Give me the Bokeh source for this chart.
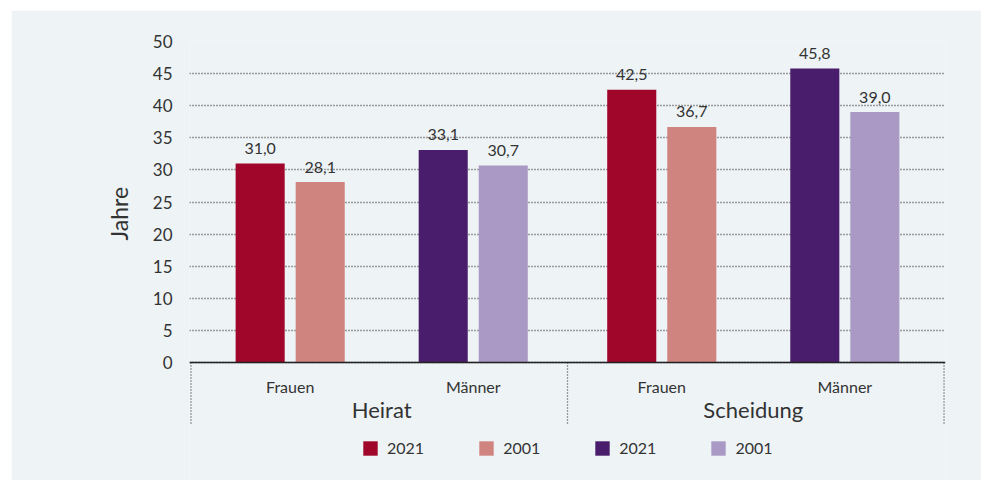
from bokeh.plotting import figure
from bokeh.models import (FactorRange, Range1d, FixedTicker, ColumnDataSource,
                          Legend, LegendItem, Span, Title)
from bokeh.transform import dodge
from bokeh.core.properties import value
from bokeh.embed import file_html
from bokeh.resources import INLINE

# ---------------- data ----------------
groups = ["Heirat", "Scheidung"]
sexes = ["Frauen", "Männer"]
frauen_2021 = [31.0, 42.5]
frauen_2001 = [28.1, 36.7]
maenner_2021 = [33.1, 45.8]
maenner_2001 = [30.7, 39.0]
y_ticks = [0, 5, 10, 15, 20, 25, 30, 35, 40, 45, 50]
y_title = "Jahre"

# ---------------- style ----------------
FONT = "Lato"
TEXT = "#333333"
BG = "#eef3f6"
C_F21 = "#a0052a"
C_F01 = "#d08480"
C_M21 = "#4a1c6c"
C_M01 = "#a999c4"

factors = [(g, s) for g in groups for s in sexes]
gp = 0.03
pad = 0.05
x_range = FactorRange(*factors, group_padding=gp,
                      range_padding=2 * pad / (len(factors) + gp))
y_range = Range1d(-18.38, 50)
sep_bottom = -9.66

W, H = 970, 470
BL, BR, BT = 178, 36, 31
p = figure(width=W, height=H, x_range=x_range, y_range=y_range,
           output_backend="svg", toolbar_location=None,
           min_border_left=BL, min_border_right=BR,
           min_border_top=BT, min_border_bottom=0,
           background_fill_color=BG, border_fill_color=BG,
           outline_line_color=None, margin=(10, 0, 0, 11))

def fmt(v):
    return f"{v:.1f}".replace(".", ",")

series = [("Frauen", frauen_2021, C_F21, -0.164),
          ("Frauen", frauen_2001, C_F01, 0.164),
          ("Männer", maenner_2021, C_M21, -0.164),
          ("Männer", maenner_2001, C_M01, 0.164)]

renderers = []
for sex, vals, col, off in series:
    src = ColumnDataSource(dict(x=[(g, sex) for g in groups], y=vals,
                                label=[fmt(v) for v in vals]))
    r = p.vbar(x=dodge("x", off, range=x_range), top="y", width=0.268,
               source=src, fill_color=col, line_color=None)
    renderers.append(r)
    p.text(x=dodge("x", off, range=x_range), y="y", text="label", source=src,
           text_align="center", text_baseline="alphabetic", y_offset=-15,
           text_font=value(FONT), text_font_size="16px", text_color=TEXT)

# baseline (x axis line)
p.add_layout(Span(location=0, dimension="width", line_color="#222222",
                  line_width=1.5))

# category labels below the baseline
sub_src = ColumnDataSource(dict(x=factors, y=[0] * len(factors),
                                t=[f[1] for f in factors]))
p.text(x="x", y="y", text="t", source=sub_src, text_align="center",
       text_baseline="alphabetic", y_offset=24, text_font=value(FONT),
       text_font_size="16px", text_color=TEXT)
grp_src = ColumnDataSource(dict(x=groups, y=[0] * len(groups), t=groups))
p.text(x="x", y="y", text="t", source=grp_src, text_align="center",
       text_baseline="alphabetic", y_offset=47, text_font=value(FONT),
       text_font_size="22px", text_color=TEXT)

# dotted separators below the axis (edges and between groups)
edge = 0.5 + pad - 0.008
seps = [((groups[0], sexes[0]), -edge),
        ((groups[0], sexes[-1]), 0.5 + gp / 2),
        ((groups[-1], sexes[-1]), edge)]
for fac, off in seps:
    s = ColumnDataSource(dict(x=[fac], y0=[0], y1=[sep_bottom]))
    p.segment(x0=dodge("x", off, range=x_range), x1=dodge("x", off, range=x_range),
              y0="y0", y1="y1", source=s,
              line_color="#444444", line_width=1.3, line_dash="1 2")

# axes
p.xaxis.visible = False
p.yaxis.ticker = FixedTicker(ticks=y_ticks)
p.ygrid.ticker = FixedTicker(ticks=y_ticks)
p.yaxis.axis_line_color = None
p.yaxis.major_tick_line_color = None
p.yaxis.minor_tick_line_color = None
p.yaxis.major_tick_out = 0
p.yaxis.major_label_standoff = 17
p.yaxis.major_label_text_font = FONT
p.yaxis.major_label_text_font_size = "17px"
p.yaxis.major_label_text_color = TEXT

p.xgrid.grid_line_color = None
p.ygrid.grid_line_color = "#444444"
p.ygrid.grid_line_width = 1.3
p.ygrid.grid_line_dash = "1 2"

# y title on the left side, shifted up to sit beside the 0-50 scale
p.add_layout(Title(text=y_title, align="left", offset=240, standoff=33,
                   text_font=FONT, text_font_size="23px",
                   text_font_style="normal", text_color=TEXT), "left")

legend = Legend(items=[LegendItem(label="2021", renderers=[renderers[0]]),
                       LegendItem(label="2001", renderers=[renderers[1]]),
                       LegendItem(label="2021", renderers=[renderers[2]]),
                       LegendItem(label="2001", renderers=[renderers[3]])],
                orientation="horizontal", location=(172, 23),
                glyph_width=18, glyph_height=18, label_height=18,
                label_standoff=8, spacing=53, padding=0, margin=0,
                label_text_font=FONT, label_text_font_size="16px",
                label_text_color=TEXT, background_fill_alpha=0,
                border_line_color=None)
p.add_layout(legend)

open("out.html", "w").write(file_html(p, INLINE))
